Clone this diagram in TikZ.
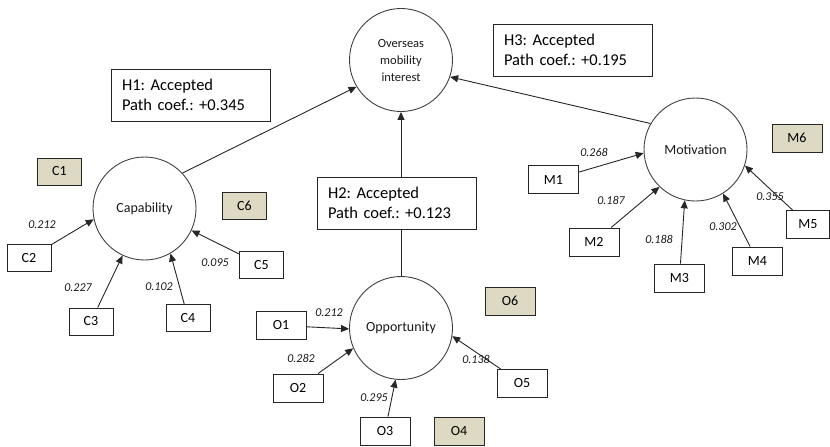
\documentclass[tikz,border=0pt]{standalone}
\usepackage{fontspec}
\setmainfont{Carlito}
\usetikzlibrary{arrows.meta}
\definecolor{tanfill}{HTML}{DDD9C3}
\frenchspacing
\begin{document}
\begin{tikzpicture}[x=1pt,y=-1pt,
  lat/.style={circle,draw=black!75,line width=0.9pt,minimum size=103pt,inner sep=0pt,align=center,text=black!90,font=\fontsize{14}{16}\selectfont},
  ind/.style={draw=black!85,line width=0.9pt,fill=white,minimum width=50pt,minimum height=28pt,inner sep=0pt,text=black,font=\fontsize{14}{16}\selectfont},
  indc/.style={ind,minimum width=44pt,minimum height=27pt},
  drop/.style={fill=tanfill},
  hyp/.style={draw=black!85,line width=0.9pt,fill=white,minimum width=159pt,minimum height=52pt,inner xsep=11pt,text width=137pt,align=left,text=black,font=\fontsize{16.5}{20}\selectfont},
  coef/.style={inner sep=0pt,text=black!90,font=\fontsize{12}{14}\selectfont\itshape},
  arr/.style={-{Triangle[length=8pt,width=7pt]},line width=0.9pt,draw=black!85}
]
\useasboundingbox (0,0) rectangle (830,447);
% latent constructs
\node[lat,font=\fontsize{12.5}{17}\selectfont] (ov) at (401,60) {Overseas\\mobility\\interest};
\node[lat] (cap) at (144.5,208.5) {Capability};
\node[lat] (opp) at (401,328) {Opportunity};
\node[lat] (mot) at (695.5,149.5) {Motivation};
% capability indicators
\node[indc,drop] (c1) at (59.5,171.5) {C1};
\node[indc] (c2) at (29,258) {C2};
\node[indc] (c3) at (91,321.5) {C3};
\node[indc] (c4) at (188,318) {C4};
\node[indc] (c5) at (261.5,265) {C5};
\node[indc,drop] (c6) at (244.5,205.5) {C6};
% opportunity indicators
\node[ind] (o1) at (281,325.5) {O1};
\node[ind] (o2) at (298,388) {O2};
\node[ind] (o3) at (385,431) {O3};
\node[ind,drop] (o4) at (459,431) {O4};
\node[ind] (o5) at (522,383.5) {O5};
\node[ind,drop] (o6) at (510,301) {O6};
% motivation indicators
\node[ind] (m1) at (553.5,179.5) {M1};
\node[ind] (m2) at (594,242) {M2};
\node[ind] (m3) at (679.5,278) {M3};
\node[ind] (m4) at (757.5,261) {M4};
\node[ind,minimum width=43pt] (m5) at (808,224.5) {M5};
\node[ind,drop] (m6) at (797,138) {M6};
% indicator arrows
\draw[arr] (c2) -- (cap.192);
\draw[arr] (c3) -- (cap.245);
\draw[arr] (c4) -- (cap.300);
\draw[arr] (c5) -- (cap.335);
\draw[arr] (o1) -- (opp.181);
\draw[arr] (o2) -- (opp.203);
\draw[arr] (o3) -- (opp.264);
\draw[arr] (o5) -- (opp.351);
\draw[arr] (m1) -- (mot.184);
\draw[arr] (m2) -- (mot.226);
\draw[arr] (m3) -- (mot.258);
\draw[arr] (m4) -- (mot.302);
\draw[arr] (m5) -- (mot.342);
% structural paths
\draw[arr] (cap.43) -- (ov.211);
\draw[arr] (opp) -- (ov);
\draw[arr] (mot.150) -- (ov.341);
% coefficients
\node[coef] (l1) at (42,225) {0.212};
\node[coef] (l2) at (78,288) {0.227};
\node[coef] (l3) at (159,287) {0.102};
\node[coef] (l4) at (215,263) {0.095};
\node[coef] (l5) at (329,313) {0.212};
\node[coef] (l6) at (301,358) {0.282};
\node[coef] (l7) at (374,398) {0.295};
\node[coef] (l8) at (476,359) {0.138};
\node[coef] (l9) at (594,152) {0.268};
\node[coef] (l10) at (611,200) {0.187};
\node[coef] (l11) at (659,239) {0.188};
\node[coef] (l12) at (723,227) {0.302};
\node[coef] (l13) at (770,197) {0.355};
% hypothesis boxes
\node[hyp] (h1) at (190.5,95) {H1: Accepted\\Path coef.: +0.345};
\node[hyp] (h3) at (572.5,50) {H3: Accepted\\Path coef.: +0.195};
\node[hyp] (h2) at (396.5,203) {H2: Accepted\\Path coef.: +0.123};
\end{tikzpicture}
\end{document}
